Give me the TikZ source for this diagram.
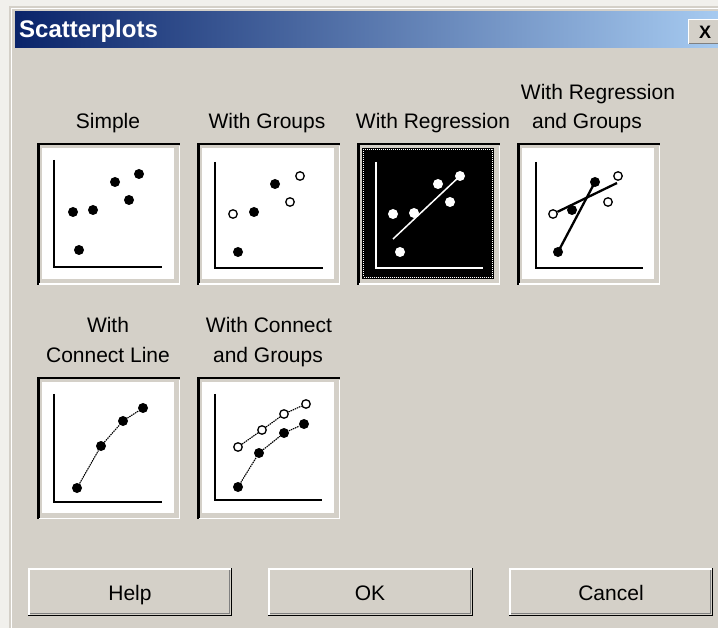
\documentclass[tikz,border=0pt]{standalone}
\usepackage{fontspec}
\setmainfont{Liberation Sans}
\usepackage{tikz}

\definecolor{face}{HTML}{D4D0C8}
\definecolor{shadow}{HTML}{808080}
\definecolor{titleleft}{HTML}{0A246A}
\definecolor{titleright}{HTML}{A6CAF0}
\definecolor{desk}{HTML}{F1F0EC}

\tikzset{
  fulldot/.style={circle, fill=black, inner sep=0pt, minimum size=10pt},
  whitedot/.style={fulldot, fill=white},
  opendot/.style={circle, draw=black, fill=white, line width=1.3pt, inner sep=0pt, minimum size=8.5pt},
  axisline/.style={line width=1.5pt},
  link/.style={line width=1.1pt, dash pattern=on 1.5pt off 0.8pt},
  fitline/.style={line width=2.3pt},
  lbl/.style={font=\fontsize{21}{24}\selectfont, anchor=base, inner sep=0pt}
}

\begin{document}
\begin{tikzpicture}[x=1pt, y=-1pt]
\useasboundingbox (0,0) rectangle (718,628);
% window
\fill[desk] (0,0) rectangle (718,628);
\fill[face] (9,6) rectangle (718,628);
\draw[white, line width=1pt] (11.5,628) -- (11.5,8.5) -- (718,8.5);

% title bar
\shade[left color=titleleft, right color=titleright] (15,12) rectangle (718,48);
\node[font=\fontsize{24}{27}\selectfont\bfseries, text=white, anchor=base west, inner sep=0pt] (title) at (19,38) {Scatterplots};
\fill[face] (688,19) rectangle (718,44);
\draw[white, line width=1pt] (688.5,44) -- (688.5,19.5) -- (718,19.5);
\draw[shadow, line width=1pt] (688.5,43.5) -- (718,43.5);
\node[font=\fontsize{18}{20}\selectfont\bfseries, inner sep=0pt] (close) at (705,32) {X};

% picture buttons
\foreach \bx/\by in {37/143, 197/143, 357/143, 517/143, 37/377, 197/377} {
  \fill[white] (\bx+5,\by+5) rectangle (\bx+137,\by+136);
  \draw[black, line width=2.5pt] (\bx+1.25,\by+142) -- (\bx+1.25,\by+1.25) -- (\bx+143,\by+1.25);
  \draw[white, line width=1.5pt] (\bx+2,\by+141.25) -- (\bx+142.25,\by+141.25) -- (\bx+142.25,\by+3);
}
% selected one
\fill[black] (362,148) rectangle (494,279);
\draw[white, line width=1pt, dash pattern=on 1pt off 1pt] (363.5,149.5) rectangle (492.5,277.5);

% labels
\node[lbl] (simple) at (108,129) {Simple};
\node[lbl] (groups) at (267,129) {With Groups};
\node[lbl] (regr) at (433,129) {With Regression};
\node[lbl] (regrgroups) at (598,100) {With Regression};
\node[lbl] (regrgroups2) at (587,129) {and Groups};
\node[lbl] (connect) at (108,333) {With};
\node[lbl] (connect2) at (108,363) {Connect Line};
\node[lbl] (connectgroups) at (269,333) {With Connect};
\node[lbl] (connectgroups2) at (268,363) {and Groups};

% simple
\begin{scope}[shift={(37,143)}]
  \draw[axisline] (17,17) -- (17,124) -- (125,124);
  \node[fulldot] (s1) at (36,69) {};
  \node[fulldot] (s2) at (56,67) {};
  \node[fulldot] (s3) at (42,107) {};
  \node[fulldot] (s4) at (78,39) {};
  \node[fulldot] (s5) at (102,31) {};
  \node[fulldot] (s6) at (92,57) {};
\end{scope}

% with groups
\begin{scope}[shift={(197,143)}]
  \draw[axisline] (18,19) -- (18,125) -- (126,125);
  \node[fulldot] (g1) at (41,109) {};
  \node[fulldot] (g2) at (57,69) {};
  \node[fulldot] (g3) at (78,41) {};
  \node[opendot] (g4) at (36,71) {};
  \node[opendot] (g5) at (93,59) {};
  \node[opendot] (g6) at (103,33) {};
\end{scope}

% with regression
\begin{scope}[shift={(357,143)}, white]
  \draw[axisline] (19,19) -- (19,125) -- (126,125);
  \node[whitedot] (r1) at (36,71) {};
  \node[whitedot] (r2) at (57,70) {};
  \node[whitedot] (r3) at (43,109) {};
  \node[whitedot] (r4) at (81,41) {};
  \node[whitedot] (r5) at (103,33) {};
  \node[whitedot] (r6) at (93,59) {};
  \coordinate (rl) at (36,96);
  \draw[line width=1.5pt] (rl) -- (r5.center);
\end{scope}

% with regression and groups
\begin{scope}[shift={(517,143)}]
  \draw[axisline] (19,19) -- (19,125) -- (126,125);
  \node[fulldot] (q1) at (41,109) {};
  \node[fulldot] (q2) at (55,67) {};
  \node[fulldot] (q3) at (78,39) {};
  \node[opendot] (q4) at (36,71) {};
  \node[opendot] (q5) at (91,59) {};
  \node[opendot] (q6) at (101,33) {};
  \coordinate (qe) at (100,40);
  \draw[fitline] (q1.center) -- (q3.center);
  \draw[fitline] (q4) -- (qe);
\end{scope}

% with connect line
\begin{scope}[shift={(37,377)}]
  \draw[axisline] (17,17) -- (17,125) -- (125,125);
  \node[fulldot] (c1) at (40,111) {};
  \node[fulldot] (c2) at (64,69) {};
  \node[fulldot] (c3) at (86,44) {};
  \node[fulldot] (c4) at (106,31) {};
  \draw[link] (c1) -- (c2) -- (c3) -- (c4);
\end{scope}

% with connect and groups
\begin{scope}[shift={(197,377)}]
  \draw[axisline] (18,17) -- (18,123) -- (125,123);
  \node[fulldot] (d1) at (41,110) {};
  \node[fulldot] (d2) at (62,76) {};
  \node[fulldot] (d3) at (87,56) {};
  \node[fulldot] (d4) at (107,47) {};
  \node[opendot] (e1) at (41,70) {};
  \node[opendot] (e2) at (65,53) {};
  \node[opendot] (e3) at (87,37) {};
  \node[opendot] (e4) at (109,27) {};
  \draw[link] (d1) -- (d2) -- (d3) -- (d4);
  \draw[link] (e1) -- (e2) -- (e3) -- (e4);
\end{scope}

% push buttons
\foreach \bx/\ex in {28/232, 268/473, 509/713} {
  \draw[white, line width=1.5pt] (\bx+0.75,616) -- (\bx+0.75,568.75) -- (\ex,568.75);
  \draw[black, line width=1.5pt] (\bx,615.25) -- (\ex-0.75,615.25) -- (\ex-0.75,568);
  \draw[shadow, line width=1pt] (\bx+2,613) -- (\ex-2.5,613) -- (\ex-2.5,570);
}
\node[lbl] (help) at (130,600) {Help};
\node[lbl] (ok) at (370,600) {OK};
\node[lbl] (cancel) at (611,600) {Cancel};
\end{tikzpicture}
\end{document}
